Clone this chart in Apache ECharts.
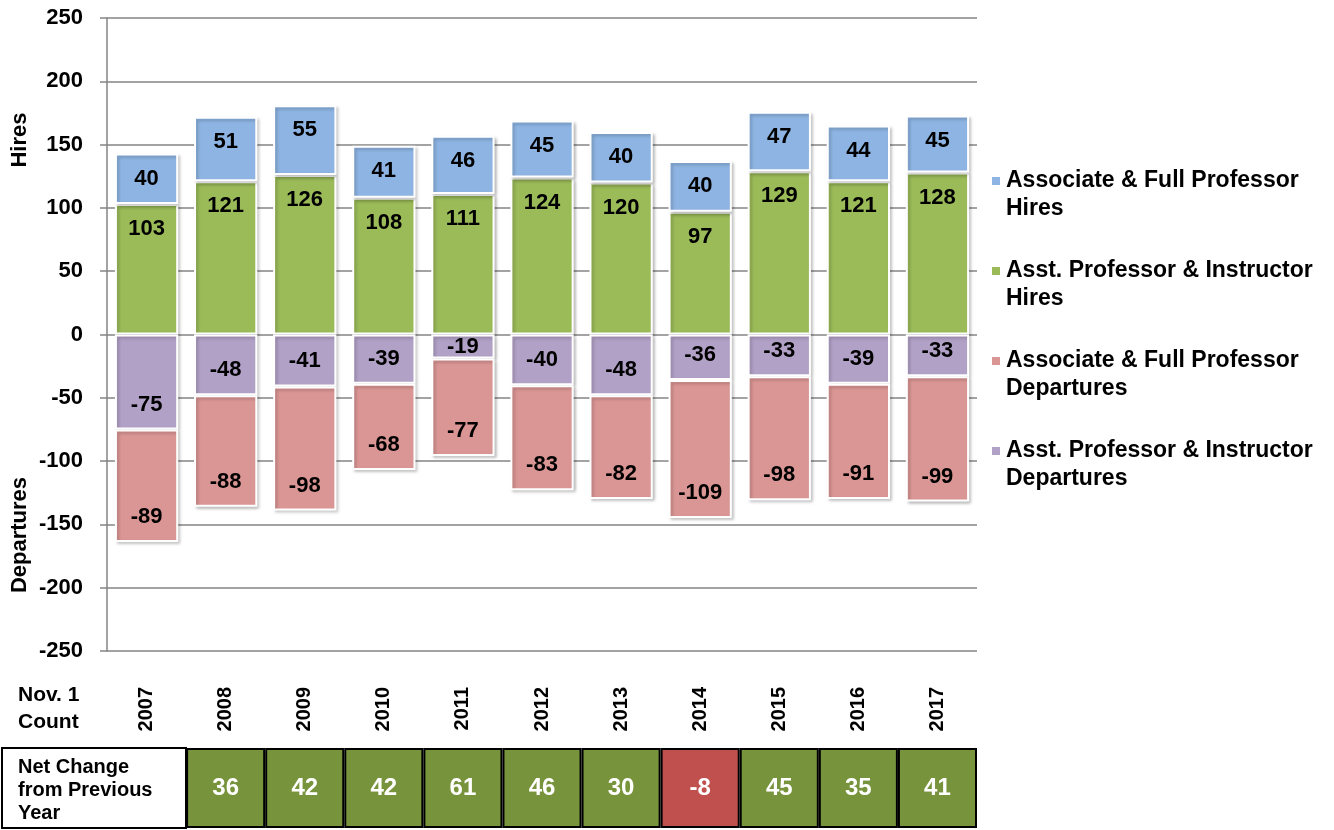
<!DOCTYPE html>
<html>
<head>
<meta charset="utf-8">
<script src="https://cdn.jsdelivr.net/npm/echarts@6/dist/echarts.min.js"></script>
<style>
  html, body { margin: 0; padding: 0; background: #fff; }
  #chart { width: 1334px; height: 830px; }
</style>
</head>
<body>
<div id="chart"></div>
<script>
// ─── Data ────────────────────────────────────────
const years = ['2007', '2008', '2009', '2010', '2011', '2012', '2013', '2014', '2015', '2016', '2017'];
const assocHires = [40, 51, 55, 41, 46, 45, 40, 40, 47, 44, 45];
const asstHires = [103, 121, 126, 108, 111, 124, 120, 97, 129, 121, 128];
const assocDepartures = [-89, -88, -98, -68, -77, -83, -82, -109, -98, -91, -99];
const asstDepartures = [-75, -48, -41, -39, -19, -40, -48, -36, -33, -39, -33];
// net change vs previous year (none for the first year)
const netChange = [null, 36, 42, 42, 61, 46, 30, -8, 45, 35, 41];
const yTicks = { min: -250, max: 250, interval: 50 };

const FONT = "'Liberation Sans', Arial, sans-serif";
const C = {
  assocHire: '#8db4e2',
  asstHire: '#9bbb59',
  assocDep: '#da9694',
  asstDep: '#b2a1c7',
  netUp: '#77933c',
  netDown: '#c0504d',
  grid: '#858585'
};

const chart = echarts.init(document.getElementById('chart'));

const barLabel = (pos) => ({
  show: true,
  position: pos,
  distance: 14,
  color: '#000',
  fontFamily: FONT,
  fontWeight: 'bold',
  fontSize: 22
});

const barStyle = (color) => ({
  color: color,
  borderColor: '#fff',
  borderWidth: 2,
  shadowBlur: 3,
  shadowOffsetX: 2,
  shadowOffsetY: 2,
  shadowColor: 'rgba(0,0,0,0.22)'
});

// small segments can't hold the label at the end, so center it
const fitLabel = arr => arr.map(v => Math.abs(v) < 25 ? { value: v, label: { position: 'inside' } } : v);

chart.setOption({
  animation: false,
  textStyle: { fontFamily: FONT },
  grid: [
    { left: 107, right: 357, top: 18, bottom: 179 },
    { left: 107, right: 357, top: 748, height: 80 }
  ],
  legend: {
    orient: 'vertical',
    left: 985,
    top: 134,
    itemWidth: 10,
    itemHeight: 10,
    itemGap: 6,
    icon: 'rect',
    data: ['Associate & Full Professor Hires', 'Asst. Professor & Instructor Hires',
           'Associate & Full Professor Departures', 'Asst. Professor & Instructor Departures'],
    // blank first line keeps the icon level with the first text line
    formatter: name => ' \n' + name.replace(/ (Hires|Departures)$/, '\n$1'),
    textStyle: {
      fontFamily: FONT,
      fontWeight: 'bold',
      fontSize: 23,
      lineHeight: 28,
      color: '#000'
    }
  },
  xAxis: [
    {
      type: 'category',
      gridIndex: 0,
      data: years,
      axisLine: { show: false, onZero: false },
      axisTick: { show: false },
      splitLine: { show: false },
      axisLabel: {
        rotate: 90,
        margin: 36,
        interval: 0,
        color: '#000',
        fontFamily: FONT,
        fontWeight: 'bold',
        fontSize: 20
      }
    },
    {
      type: 'category',
      gridIndex: 1,
      data: years,
      show: false
    }
  ],
  yAxis: [
    {
      type: 'value',
      gridIndex: 0,
      min: yTicks.min,
      max: yTicks.max,
      interval: yTicks.interval,
      axisLine: { show: true, lineStyle: { color: C.grid, width: 1.5 } },
      axisTick: { show: true, inside: false, length: 7, lineStyle: { color: C.grid, width: 1.5 } },
      splitLine: { show: true, lineStyle: { color: C.grid, width: 1.5 } },
      axisLabel: {
        margin: 24,
        color: '#000',
        fontFamily: FONT,
        fontWeight: 'bold',
        fontSize: 22
      }
    },
    {
      type: 'value',
      gridIndex: 1,
      min: 0,
      max: 1,
      show: false
    }
  ],
  series: [
    {
      name: 'Asst. Professor & Instructor Hires',
      type: 'bar',
      stack: 'flow',
      barCategoryGap: '20%',
      data: asstHires,
      itemStyle: barStyle(C.asstHire),
      label: barLabel('insideTop')
    },
    {
      name: 'Associate & Full Professor Hires',
      type: 'bar',
      stack: 'flow',
      data: assocHires,
      itemStyle: barStyle(C.assocHire),
      label: barLabel('insideTop')
    },
    {
      name: 'Asst. Professor & Instructor Departures',
      type: 'bar',
      stack: 'flow',
      data: fitLabel(asstDepartures),
      itemStyle: barStyle(C.asstDep),
      label: barLabel('insideBottom')
    },
    {
      name: 'Associate & Full Professor Departures',
      type: 'bar',
      stack: 'flow',
      data: assocDepartures,
      itemStyle: barStyle(C.assocDep),
      label: barLabel('insideBottom')
    },
    {
      // net change table row, one cell per year
      name: 'Net Change',
      type: 'bar',
      xAxisIndex: 1,
      yAxisIndex: 1,
      barCategoryGap: '0%',
      silent: true,
      data: netChange.map(v => v == null ? '-' : {
        value: 1,
        net: v,
        itemStyle: { color: v < 0 ? C.netDown : C.netUp }
      }),
      itemStyle: { borderColor: '#000', borderWidth: 2 },
      label: {
        show: true,
        position: 'inside',
        formatter: p => p.data.net,
        color: '#fff',
        fontFamily: FONT,
        fontWeight: 'bold',
        fontSize: 24
      }
    }
  ],
  graphic: [
    {
      type: 'text',
      x: 20, y: 140,
      rotation: Math.PI / 2,
      style: {
        text: 'Hires', fill: '#000', font: 'bold 22px ' + FONT,
        align: 'center', verticalAlign: 'middle'
      }
    },
    {
      type: 'text',
      x: 20, y: 535,
      rotation: Math.PI / 2,
      style: {
        text: 'Departures', fill: '#000', font: 'bold 22px ' + FONT,
        align: 'center', verticalAlign: 'middle'
      }
    },
    {
      type: 'text',
      x: 18, y: 709,
      style: {
        text: 'Nov. 1\nCount', fill: '#000', font: 'bold 21px ' + FONT,
        lineHeight: 27, align: 'left', verticalAlign: 'middle'
      }
    },
    {
      type: 'rect',
      shape: { x: 2, y: 748, width: 184, height: 80 },
      style: { fill: '#fff', stroke: '#000', lineWidth: 2 }
    },
    {
      type: 'text',
      x: 18, y: 790,
      style: {
        text: 'Net Change\nfrom Previous\nYear', fill: '#000', font: 'bold 20px ' + FONT,
        lineHeight: 23, align: 'left', verticalAlign: 'middle'
      }
    }
  ]
});

window.addEventListener('resize', () => chart.resize());
</script>
</body>
</html>
